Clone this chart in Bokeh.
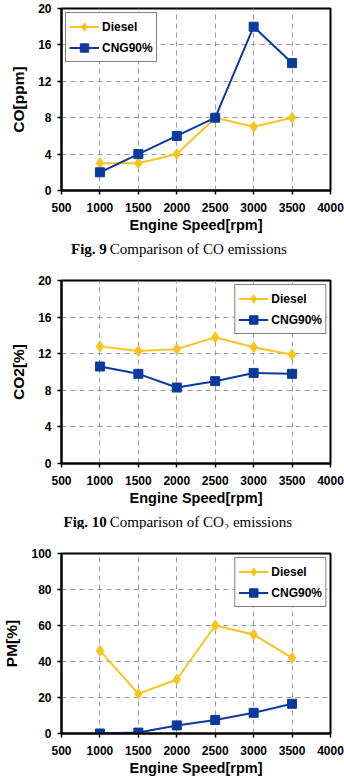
from bokeh.plotting import figure
from bokeh.layouts import column
from bokeh.models import Range1d, FixedTicker, Legend, LegendItem
from bokeh.core.properties import value
from bokeh.embed import file_html
from bokeh.resources import INLINE

# Engine speeds tested
speed = [1000, 1500, 2000, 2500, 3000, 3500]

# CO emissions [ppm]
co_diesel = [3, 3, 4, 8, 7, 8]
co_cng = [2, 4, 6, 8, 18, 14]

# CO2 emissions [%]
co2_diesel = [12.8, 12.3, 12.5, 13.8, 12.7, 11.9]
co2_cng = [10.6, 9.8, 8.3, 9.0, 9.9, 9.8]

# PM emissions [%]
pm_diesel = [46, 22, 30, 60, 55, 42]
pm_cng = [0, 0.5, 4.5, 7.5, 11.5, 16.5]

x_ticks = [500, 1000, 1500, 2000, 2500, 3000, 3500, 4000]
series_names = ["Diesel", "CNG90%"]

YELLOW = "#F9C41E"
BLUE = "#0B3A9C"
SANS = "Liberation Sans"
SERIF = "Liberation Serif"
W = 344
LEFT, RIGHT = 57, 14


def make_chart(height, top, bottom, ylabel, ymax, ystep, diesel, cng, legend_loc):
    p = figure(width=W, height=height, output_backend="svg",
               toolbar_location=None,
               x_range=Range1d(500, 4000), y_range=Range1d(0, ymax),
               min_border_left=LEFT, min_border_right=RIGHT,
               min_border_top=top, min_border_bottom=bottom)
    p.background_fill_color = "white"
    p.border_fill_color = "white"
    p.outline_line_color = "black"
    p.outline_line_width = 2

    p.xaxis.ticker = FixedTicker(ticks=x_ticks)
    p.yaxis.ticker = FixedTicker(ticks=list(range(0, ymax + 1, ystep)))
    for ax in (p.xaxis[0], p.yaxis[0]):
        ax.axis_line_width = 2
        ax.axis_line_color = "black"
        ax.major_tick_line_color = "black"
        ax.major_tick_line_width = 1.5
        ax.major_tick_out = 4
        ax.major_tick_in = 0
        ax.minor_tick_line_color = None
        ax.major_label_text_font = SANS
        ax.major_label_text_font_style = "bold"
        ax.major_label_text_font_size = "12px"
        ax.major_label_text_color = "black"
        ax.axis_label_text_font = SANS
        ax.axis_label_text_font_style = "bold"
        ax.axis_label_text_color = "black"
    p.xaxis.axis_label = "Engine Speed[rpm]"
    p.xaxis.axis_label_text_font_size = "14.5px"
    p.xaxis.major_label_standoff = 8
    p.xaxis.axis_label_standoff = 2
    p.yaxis.axis_label = ylabel
    p.yaxis.axis_label_text_font_size = "15.5px"
    p.yaxis.major_label_standoff = 6
    p.yaxis.axis_label_standoff = 8

    p.grid.grid_line_color = "#9a9a9a"
    p.grid.grid_line_dash = "5 4"
    p.grid.grid_line_width = 1

    l1 = p.line(speed, diesel, line_color=YELLOW, line_width=2)
    m1 = p.scatter(speed, diesel, marker="diamond", size=11,
                   fill_color=YELLOW, line_color=YELLOW)
    l2 = p.line(speed, cng, line_color=BLUE, line_width=2)
    m2 = p.scatter(speed, cng, marker="square", size=9,
                   fill_color=BLUE, line_color=BLUE)

    legend = Legend(items=[LegendItem(label=series_names[0], renderers=[l1, m1]),
                           LegendItem(label=series_names[1], renderers=[l2, m2])],
                    location=legend_loc)
    legend.label_text_font = SANS
    legend.label_text_font_style = "bold"
    legend.label_text_font_size = "12px"
    legend.label_text_color = "black"
    legend.border_line_color = "black"
    legend.border_line_width = 1
    # taller glyph boxes give bigger legend markers; negative spacing keeps rows tight
    legend.glyph_width = 30
    legend.glyph_height = 21
    legend.label_height = 16
    legend.label_standoff = 3
    legend.spacing = -3
    legend.padding = 3
    legend.margin = 4
    legend.background_fill_alpha = 1
    p.add_layout(legend)
    return p


def make_caption(height, fig_no, caption, split_x, text_y):
    # a bare strip (no axes) holding the caption: bold number, plain description.
    # Its frame shares the charts' side borders, so x runs in page pixels.
    c = figure(width=W, height=height, output_backend="svg", toolbar_location=None,
               x_axis_type=None, y_axis_type=None,
               x_range=Range1d(LEFT, W - RIGHT), y_range=Range1d(height, 0),
               min_border_left=LEFT, min_border_right=RIGHT,
               min_border_top=0, min_border_bottom=0,
               outline_line_color=None)
    c.grid.visible = False
    c.text(x=[split_x], y=[text_y], text=[fig_no], text_font=value(SERIF),
           text_font_style="bold", text_font_size="15px", text_align="right",
           text_baseline="middle", text_color="black")
    c.text(x=[split_x + 3], y=[text_y], text=[caption], text_font=value(SERIF),
           text_font_size="15px", text_align="left",
           text_baseline="middle", text_color="black")
    return c


p1 = make_chart(236, 8, 46, "CO[ppm]", 20, 4, co_diesel, co_cng, "top_left")
c1 = make_caption(22, "Fig. 9", "Comparison of CO emissions", 103, 12)
p2 = make_chart(251, 22, 46, "CO2[%]", 20, 4, co2_diesel, co2_cng, "top_right")
c2 = make_caption(20, "Fig. 10", "Comparison of CO₂ emissions", 103, 12)
p3 = make_chart(250, 24, 46, "PM[%]", 100, 20, pm_diesel, pm_cng, "top_right")

layout = column(p1, c1, p2, c2, p3, spacing=0)
open("out.html", "w").write(file_html(layout, INLINE))
